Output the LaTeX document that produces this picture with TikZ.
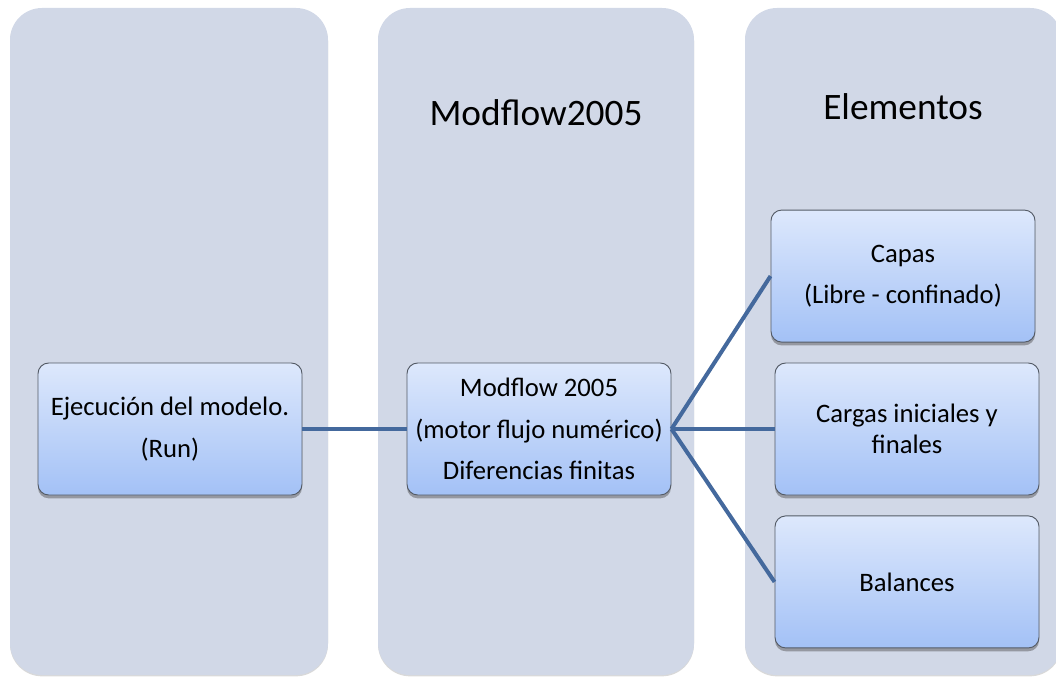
\documentclass[tikz,border=0pt]{standalone}
\usepackage{fontspec}
\setmainfont{Carlito}
\usetikzlibrary{positioning,shadows}
\definecolor{ColFill}{HTML}{D1D8E7}
\definecolor{BoxTop}{HTML}{DDE8FC}
\definecolor{BoxBottom}{HTML}{A3C1F6}
\definecolor{BoxEdge}{HTML}{545B66}
\definecolor{LinkBlue}{HTML}{44699D}

\begin{document}
\begin{tikzpicture}[x=0.75pt,y=-0.75pt,node distance=15pt]
    \tikzset{columnbox/.style={fill=ColFill,rounded corners=24pt,drop shadow={shadow xshift=0pt,shadow yshift=-1pt,opacity=0.3}},
      coltitle/.style={anchor=base,font=\fontsize{28}{32}\selectfont},
      procbox/.style={draw=BoxEdge,line width=0.7pt,rounded corners=8pt,top color=BoxTop,bottom color=BoxBottom,minimum width=198pt,minimum height=99pt,inner sep=2pt,align=center,font=\fontsize{20}{23}\selectfont,drop shadow={shadow xshift=0pt,shadow yshift=-2.5pt,opacity=0.45,fill=black!70}},
      link/.style={draw=LinkBlue,line width=3pt}}
    \useasboundingbox (0,0) rectangle (1056,677);
    % columns
    \path[columnbox] (10,8) rectangle (328,675);
    \path[columnbox] (378,8) rectangle (694,675);
    \path[columnbox] (745,8) rectangle (1062,675);
    \node[coltitle] (t2) at (536,126) {Modflow2005};
    \node[coltitle] (t3) at (903,120) {Elementos};
    % boxes
    \node[procbox] (run) at (170,429) {Ejecución del modelo.\\[8pt](Run)};
    \node[procbox] (motor) at (539,429) {Modflow 2005\\[8pt](motor flujo numérico)\\[8pt]Diferencias finitas};
    \node[procbox] (cargas) at (907,429) {Cargas iniciales y\\finales};
    \node[procbox,above=of cargas,xshift=-3pt] (capas) {Capas\\[8pt](Libre - confinado)};
    \node[procbox,below=of cargas] (balances) {Balances};
    % connectors
    \draw[link] (run.east) -- (motor.west);
    \draw[link] (motor.east) -- (capas.west);
    \draw[link] (motor.east) -- (cargas.west);
    \draw[link] (motor.east) -- (balances.west);
\end{tikzpicture}
\end{document}
